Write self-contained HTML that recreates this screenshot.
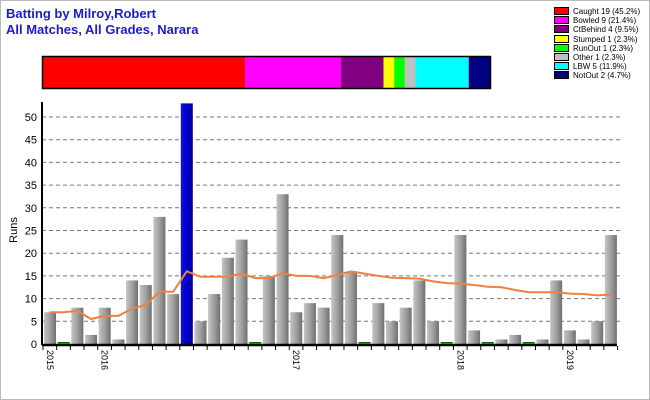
<!DOCTYPE html>
<html><head><meta charset="utf-8"><style>
body{margin:0;background:#fff;}
#wrap{position:relative;width:648px;height:398px;border:1px solid #bbb;overflow:hidden;font-family:"Liberation Sans",sans-serif;}
.t{position:absolute;left:5px;font-weight:bold;font-size:13px;color:#1c1ccc;}
.lg{position:absolute;left:553px;font-size:8px;color:#000;line-height:9px;}
.lg div{height:9.2px;white-space:nowrap;}
.lg span{display:inline-block;width:13px;height:6px;border:1px solid #000;margin-right:4px;vertical-align:-1px;}
</style></head><body>
<div id="wrap">
<div class="t" style="top:5px">Batting by Milroy,Robert</div>
<div class="t" style="top:21px">All Matches, All Grades, Narara</div>
<div class="lg" style="top:6px" id="legend"></div>
<svg id="svg" width="650" height="400" style="position:absolute;left:-1px;top:-1px">
<defs>
<linearGradient id="gg" x1="0" x2="1"><stop offset="0" stop-color="#c4c4c4"/><stop offset="0.5" stop-color="#a0a0a0"/><stop offset="1" stop-color="#707070"/></linearGradient>
<linearGradient id="bg" x1="0" x2="1"><stop offset="0" stop-color="#1010e0"/><stop offset="0.5" stop-color="#0000cc"/><stop offset="1" stop-color="#00009a"/></linearGradient>
</defs>
</svg>
</div>
<script>
const runs=[7,0,8,2,8,1,14,13,28,11,53,5,11,19,23,0,15,33,7,9,8,24,16,0,9,5,8,14,5,0,24,3,0,1,2,0,1,14,3,1,5,24];
const notOut=[10];
const avg=[7,7,7.3,5.5,6.2,6.2,7.8,8.6,11.5,11.5,16,14.8,14.8,14.8,15.5,14.5,14.5,15.6,15,15,14.5,15.2,16,15.5,15,14.6,14.5,14.4,13.8,13.4,13.3,13,12.6,12.5,11.9,11.4,11.4,11.4,11.1,11,10.7,10.9];
const yTicks=[0,5,10,15,20,25,30,35,40,45,50];
const yearLabels=["2015","2016","2017","2018","2019"];
const yearIdx=[0,4,18,30,38];
const dismissLabels=["Caught 19 (45.2%)","Bowled 9 (21.4%)","CtBehind 4 (9.5%)","Stumped 1 (2.3%)","RunOut 1 (2.3%)","Other 1 (2.3%)","LBW 5 (11.9%)","NotOut 2 (4.7%)"];
const dismissCounts=[19,9,4,1,1,1,5,2];
const dismissColors=["#ff0000","#ff00ff","#800080","#ffff00","#00ff00","#c0c0c0","#00ffff","#000080"];
const NS="http://www.w3.org/2000/svg";
const svg=document.getElementById('svg');
const X0=42,SW=13.68,BASE=344,PX=4.54;
const xs=i=>X0+i*SW;
const ys=v=>BASE-v*PX;
function mk(t,a){const e=document.createElementNS(NS,t);for(const k in a)e.setAttribute(k,a[k]);svg.appendChild(e);return e;}
const total=dismissCounts.reduce((a,b)=>a+b,0);let sx=43;const SWID=447;
dismissCounts.forEach((c,i)=>{const w=c/total*SWID;const r=mk('rect',{x:sx,y:57,width:w,height:31,fill:dismissColors[i]});

sx+=w;});
const fr=mk('rect',{x:42.5,y:56.5,width:448,height:32,fill:'none',stroke:'#000','stroke-width':1.5});


yTicks.forEach(v=>{if(v>0){const l=mk('line',{x1:X0,x2:622,y1:ys(v),y2:ys(v),stroke:'#777','stroke-dasharray':'4,3','stroke-width':1});

}
const t=mk('text',{x:37,y:ys(v)+4,'text-anchor':'end','font-size':11,'font-family':'Liberation Sans, sans-serif'});t.textContent=v;

});
runs.forEach((v,i)=>{const no=notOut.includes(i);
if(v===0){const r=mk('rect',{x:xs(i)+2,y:BASE-2,width:12,height:1.5,fill:'#006400'});

return;}
const top=Math.max(ys(v),101);
const r=mk('rect',{x:xs(i)+2,y:top,width:12,height:BASE-top,fill:no?'url(#bg)':'url(#gg)'});

});
const p=mk('polyline',{points:avg.map((v,i)=>(xs(i)+8)+','+ys(v)).join(' '),fill:'none',stroke:'#f08040','stroke-width':2});


const ya=mk('line',{x1:X0,x2:X0,y1:102,y2:345,stroke:'#000','stroke-width':2});


const xa=mk('line',{x1:X0,x2:617,y1:BASE+1,y2:BASE+1,stroke:'#000','stroke-width':2.5});


for(let i=0;i<=runs.length;i++){const l=mk('line',{x1:xs(i)+1,x2:xs(i)+1,y1:BASE+2,y2:BASE+6,stroke:'#000'});

}
yearLabels.forEach((y,k)=>{const x=xs(yearIdx[k])+5;const t=mk('text',{x:x,y:350,'font-size':9,'font-family':'Liberation Sans, sans-serif',transform:`rotate(90 ${x} 350)`});t.textContent=y;

});
const yt=mk('text',{x:17,y:230,'font-size':11,'font-family':'Liberation Sans, sans-serif','text-anchor':'middle',transform:'rotate(-90 17 230)'});yt.textContent='Runs';


const lg=document.getElementById('legend');
dismissLabels.forEach((s,i)=>{const d=document.createElement('div');d.innerHTML='<span style="background:'+dismissColors[i]+'"></span>'+s;

lg.appendChild(d);});
</script>
</body></html>
